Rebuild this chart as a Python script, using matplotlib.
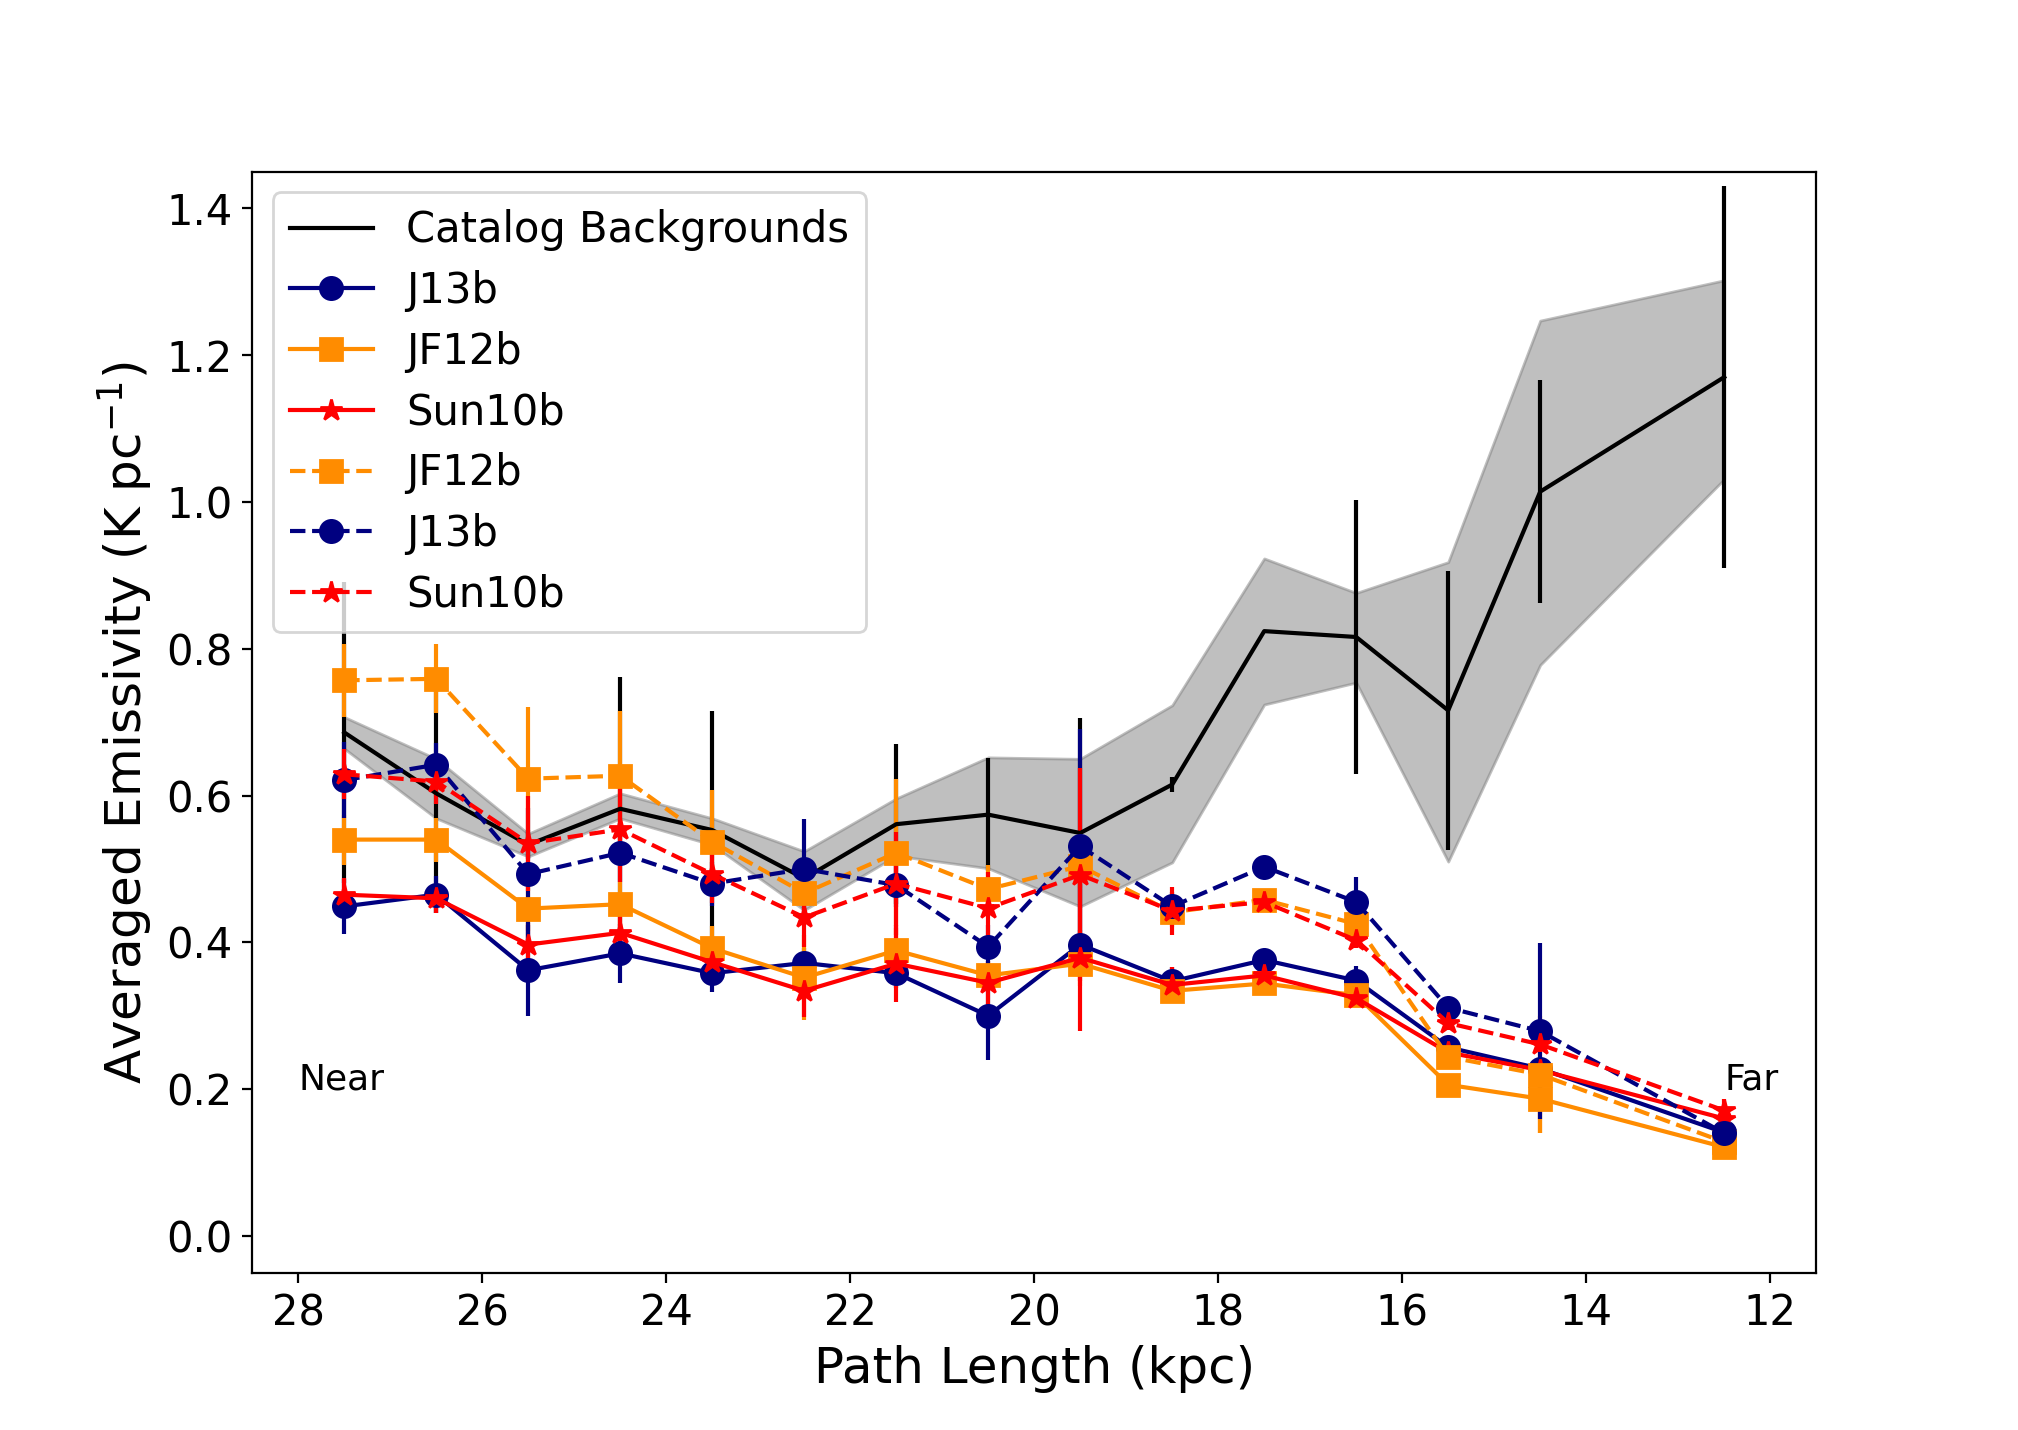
import numpy as np
import matplotlib.pyplot as plt

# path length bins (kpc)
path = [27.5, 26.5, 25.5, 24.5, 23.5, 22.5, 21.5, 20.5, 19.5, 18.5, 17.5, 16.5, 15.5, 14.5, 12.5]

# catalog backgrounds
cat = [0.686, 0.603, 0.533, 0.582, 0.553, 0.487, 0.561, 0.574, 0.549, 0.615, 0.824, 0.816, 0.716, 1.014, 1.170]
cat_err = [0.205, 0.163, 0.02, 0.18, 0.162, 0.02, 0.109, 0.077, 0.157, 0.01, 0.0, 0.186, 0.19, 0.152, 0.26]
band_hi = [0.707, 0.650, 0.548, 0.603, 0.569, 0.524, 0.596, 0.652, 0.650, 0.723, 0.923, 0.876, 0.918, 1.247, 1.302]
band_lo = [0.664, 0.569, 0.517, 0.569, 0.533, 0.444, 0.518, 0.501, 0.449, 0.509, 0.724, 0.754, 0.510, 0.778, 1.031]

# models, solid
j13 = [0.449, 0.465, 0.362, 0.385, 0.358, 0.372, 0.358, 0.300, 0.397, 0.347, 0.376, 0.348, 0.257, 0.228, 0.141]
j13_err = [0.037, 0.025, 0.062, 0.04, 0.026, 0.02, 0.02, 0.06, 0.02, 0.02, 0.01, 0.02, 0.01, 0.01, 0.01]
jf12 = [0.540, 0.540, 0.446, 0.452, 0.392, 0.352, 0.389, 0.355, 0.371, 0.334, 0.344, 0.328, 0.206, 0.187, 0.121]
jf12_err = [0.034, 0.03, 0.03, 0.03, 0.03, 0.058, 0.03, 0.02, 0.03, 0.01, 0.01, 0.01, 0.01, 0.047, 0.014]
sun10 = [0.465, 0.460, 0.397, 0.413, 0.373, 0.334, 0.371, 0.345, 0.379, 0.342, 0.355, 0.324, 0.250, 0.226, 0.160]
sun10_err = [0.023, 0.02, 0.03, 0.03, 0.03, 0.036, 0.052, 0.03, 0.10, 0.025, 0.01, 0.01, 0.01, 0.01, 0.01]

# models, dashed
jf12_d = [0.757, 0.759, 0.623, 0.627, 0.537, 0.467, 0.522, 0.4725, 0.504, 0.441, 0.458, 0.425, 0.244, 0.220, 0.128]
jf12_d_err = [0.05, 0.047, 0.097, 0.088, 0.07, 0.03, 0.10, 0.033, 0.03, 0.02, 0.01, 0.02, 0.01, 0.08, 0.01]
j13_d = [0.621, 0.642, 0.493, 0.522, 0.480, 0.500, 0.478, 0.394, 0.531, 0.449, 0.503, 0.455, 0.311, 0.279, 0.140]
j13_d_err = [0.052, 0.03, 0.09, 0.04, 0.03, 0.068, 0.03, 0.03, 0.16, 0.02, 0.01, 0.034, 0.01, 0.12, 0.01]
sun10_d = [0.629, 0.619, 0.535, 0.554, 0.493, 0.434, 0.480, 0.4465, 0.492, 0.443, 0.455, 0.403, 0.290, 0.261, 0.171]
sun10_d_err = [0.034, 0.03, 0.065, 0.072, 0.04, 0.04, 0.07, 0.05, 0.145, 0.033, 0.01, 0.01, 0.01, 0.01, 0.016]

fig = plt.figure(figsize=(10.09, 7.15), dpi=200)
ax = plt.gca()

ax.fill_between(path, band_lo, band_hi, color='grey', alpha=0.5)

handles = []
labels = []
eb = ax.errorbar(path, cat, yerr=cat_err, color='k')
handles.append(eb[0])
labels.append('Catalog Backgrounds')

series = [
    (j13, j13_err, 'navy', 'o', '-', 'J13b'),
    (jf12, jf12_err, 'darkorange', 's', '-', 'JF12b'),
    (sun10, sun10_err, 'red', '*', '-', 'Sun10b'),
    (jf12_d, jf12_d_err, 'darkorange', 's', '--', 'JF12b'),
    (j13_d, j13_d_err, 'navy', 'o', '--', 'J13b'),
    (sun10_d, sun10_d_err, 'red', '*', '--', 'Sun10b'),
]
for y, err, c, m, ls, lab in series:
    eb = ax.errorbar(path, y, yerr=err, color=c, marker=m, ms=8, ls=ls)
    handles.append(eb[0])
    labels.append(lab)

ax.text(28.0, 0.2, 'Near', fontsize=13)
ax.text(12.5, 0.2, 'Far', fontsize=13)

ax.set_xlim(28.5, 11.5)
ax.set_ylim(-0.05, 1.45)
ax.set_xticks(np.arange(12, 29, 2))
ax.set_yticks(np.arange(0, 1.41, 0.2))
ax.tick_params(labelsize=15)
ax.set_xlabel('Path Length (kpc)', fontsize=18)
ax.set_ylabel('Averaged Emissivity (K pc$^{-1}$)', fontsize=18)
ax.legend(handles, labels, loc='upper left', fontsize=15, labelspacing=0.45)

plt.savefig('out.png', dpi=200)
